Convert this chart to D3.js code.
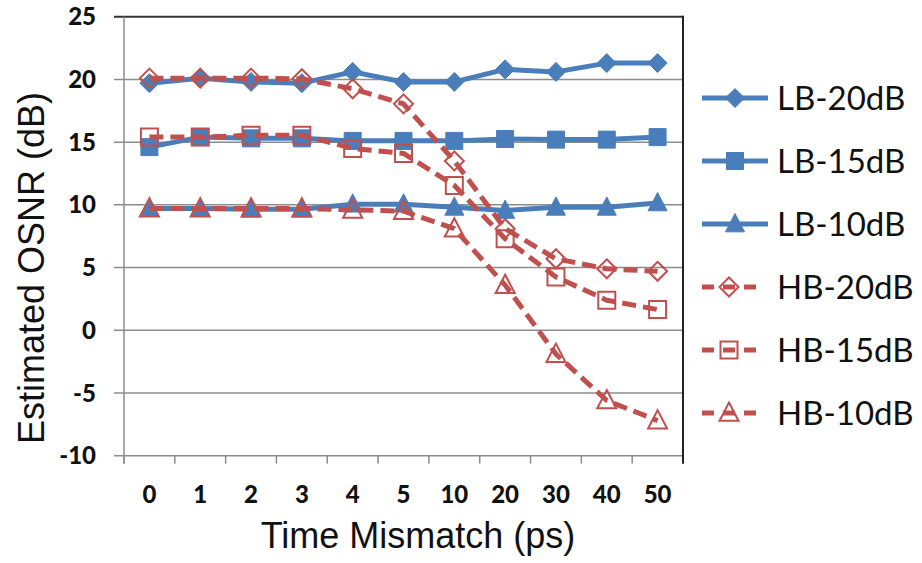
<!DOCTYPE html>
<html>
<head>
<meta charset="utf-8">
<script src="https://cdn.jsdelivr.net/npm/d3@7"></script>
<style>
  body { margin: 0; background: #fff; }
  svg { display: block; }
</style>
</head>
<body>
<svg id="chart"></svg>
<script>
// categories on the x axis (ps)
var categories = ["0", "1", "2", "3", "4", "5", "10", "20", "30", "40", "50"];
var yTicks = [-10, -5, 0, 5, 10, 15, 20, 25];

// series values
var lb20 = [19.7, 20.1, 19.8, 19.7, 20.6, 19.8, 19.8, 20.8, 20.6, 21.3, 21.3];
var lb15 = [14.6, 15.4, 15.3, 15.3, 15.1, 15.1, 15.1, 15.25, 15.2, 15.2, 15.4];
var lb10 = [9.7, 9.7, 9.65, 9.65, 10.05, 10.05, 9.8, 9.55, 9.8, 9.8, 10.15];
var hb20 = [20.1, 20.1, 20.1, 20.05, 19.25, 18.05, 13.5, 8.1, 5.7, 4.9, 4.7];
var hb15 = [15.4, 15.4, 15.55, 15.55, 14.5, 14.1, 11.55, 7.3, 4.25, 2.4, 1.65];
var hb10 = [9.7, 9.7, 9.7, 9.7, 9.6, 9.5, 8.1, 3.6, -1.9, -5.6, -7.2];

var seriesNames = ["LB-20dB", "LB-15dB", "LB-10dB", "HB-20dB", "HB-15dB", "HB-10dB"];
var seriesValues = [lb20, lb15, lb10, hb20, hb15, hb10];
var seriesShapes = ["diamond", "square", "triangle", "diamond", "square", "triangle"];
var seriesKinds = ["LB", "LB", "LB", "HB", "HB", "HB"];

var blue = "#4a7ebb";
var red = "#c0504d";

var width = 922, height = 563;
var plotLeft = 124, plotRight = 683, plotTop = 16.7, plotBottom = 455.7;

var svg = d3.select("#chart").attr("width", width).attr("height", height);

var x = d3.scaleBand().domain(categories).range([plotLeft, plotRight]);
var y = d3.scaleLinear().domain([-10, 25]).range([plotBottom, plotTop]);

// gridlines
svg.append("g")
  .selectAll("line")
  .data(yTicks)
  .enter()
  .append("line")
  .attr("x1", plotLeft - 10)
  .attr("x2", plotRight)
  .attr("y1", function (d) { return y(d); })
  .attr("y2", function (d) { return y(d); })
  .attr("stroke", function (d) { return d == 25 ? "#333" : "#8c8c8c"; })
  .attr("stroke-width", function (d) { return d == 25 ? 2 : 1.5; });

// left axis line
svg.append("line")
  .attr("x1", plotLeft).attr("x2", plotLeft)
  .attr("y1", plotTop).attr("y2", plotBottom + 8)
  .attr("stroke", "#8c8c8c").attr("stroke-width", 1.5);

// right border
svg.append("line")
  .attr("x1", plotRight).attr("x2", plotRight)
  .attr("y1", plotTop - 1).attr("y2", plotBottom + 8)
  .attr("stroke", "#222").attr("stroke-width", 2);

// x tick marks at band edges
svg.append("g")
  .selectAll("line")
  .data(categories)
  .enter()
  .append("line")
  .attr("x1", function (d) { return x(d); })
  .attr("x2", function (d) { return x(d); })
  .attr("y1", plotBottom)
  .attr("y2", plotBottom + 8)
  .attr("stroke", "#8c8c8c")
  .attr("stroke-width", 1.5);

// y tick labels
svg.append("g")
  .selectAll("text")
  .data(yTicks)
  .enter()
  .append("text")
  .attr("x", 96)
  .attr("y", function (d) { return y(d); })
  .attr("dy", "0.36em")
  .attr("text-anchor", "end")
  .style("font", "900 24px Lato, sans-serif")
  .style("fill", "#111")
  .text(function (d) { return d; });

// x tick labels
svg.append("g")
  .selectAll("text")
  .data(categories)
  .enter()
  .append("text")
  .attr("x", function (d) { return x(d) + x.bandwidth() / 2; })
  .attr("y", 503)
  .attr("text-anchor", "middle")
  .style("font", "900 24px Lato, sans-serif")
  .style("fill", "#111")
  .text(function (d) { return d; });

// axis titles
svg.append("text")
  .attr("x", (248 + 588) / 2)
  .attr("y", 548)
  .attr("text-anchor", "middle")
  .style("font", "36px 'Liberation Sans', Arial, sans-serif")
  .style("fill", "#111")
  .text("Time Mismatch (ps)");

svg.append("text")
  .attr("transform", "translate(44," + 268 + ") rotate(-90)")
  .attr("text-anchor", "middle")
  .style("font", "36px 'Liberation Sans', Arial, sans-serif")
  .style("fill", "#111")
  .text("Estimated OSNR (dB)");

// marker paths
function markerPath(shape, s) {
  if (shape == "diamond") return "M0," + (-s) + "L" + s + ",0L0," + s + "L" + (-s) + ",0Z";
  if (shape == "square") return "M" + (-s) + "," + (-s) + "H" + s + "V" + s + "H" + (-s) + "Z";
  var h = s * 1.1;
  return "M0," + (-h) + "L" + s + "," + (h * 0.75) + "L" + (-s) + "," + (h * 0.75) + "Z";
}
var markerSize = { diamond: 9.5, square: 8.5, triangle: 9.5 };

function lineStyle(sel, kind) {
  sel.attr("fill", "none")
    .attr("stroke", kind == "LB" ? blue : red)
    .attr("stroke-width", 5)
    .attr("stroke-dasharray", kind == "LB" ? null : "14,7")
    .attr("stroke-linejoin", "round");
}
function markerStyle(sel, kind) {
  if (kind == "LB") sel.attr("fill", blue).attr("stroke", blue).attr("stroke-width", 1);
  else sel.attr("fill", "none").attr("stroke", red).attr("stroke-width", 2);
}

var line = d3.line()
  .x(function (d, i) { return x(categories[i]) + x.bandwidth() / 2; })
  .y(function (d) { return y(d); });

seriesValues.forEach(function (vals, k) {
  var kind = seriesKinds[k];
  var g = svg.append("g");
  g.append("path").datum(vals).attr("d", line).call(lineStyle, kind);
  g.selectAll("path.m")
    .data(vals)
    .enter()
    .append("path")
    .attr("class", "m")
    .attr("transform", function (d, i) {
      return "translate(" + (x(categories[i]) + x.bandwidth() / 2) + "," + y(d) + ")";
    })
    .attr("d", markerPath(seriesShapes[k], markerSize[seriesShapes[k]]))
    .call(markerStyle, kind);
});

// legend
var legend = svg.append("g")
  .selectAll("g")
  .data(seriesNames)
  .enter()
  .append("g")
  .attr("transform", function (d, i) { return "translate(0," + (98 + i * 63) + ")"; });

legend.append("line")
  .attr("y1", 0).attr("y2", 0)
  .each(function (d, i) {
    d3.select(this).call(lineStyle, seriesKinds[i]);
    if (seriesKinds[i] == "HB") {
      d3.select(this).attr("x1", 702).attr("x2", 756).attr("stroke-dasharray", "12,9");
    } else {
      d3.select(this).attr("x1", 702).attr("x2", 768);
    }
  });

legend.append("path")
  .attr("transform", function (d, i) { return "translate(" + (seriesKinds[i] == "HB" ? 729 : 735) + ",0)"; })
  .attr("d", function (d, i) {
    var sh = seriesShapes[i];
    return markerPath(sh, markerSize[sh]);
  })
  .each(function (d, i) { d3.select(this).call(markerStyle, seriesKinds[i]); });

legend.append("text")
  .attr("x", 777)
  .attr("y", 0)
  .attr("dy", "0.35em")
  .style("font", "33px Lato, sans-serif")
  .style("fill", "#111")
  .text(function (d) { return d; });
</script>
</body>
</html>
